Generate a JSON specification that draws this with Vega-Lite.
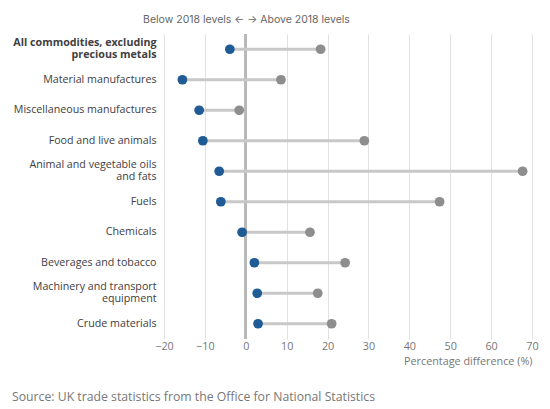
{
  "$schema": "https://vega.github.io/schema/vega-lite/v6.json",
  "width": 368,
  "height": 305,
  "autosize": "none",
  "padding": {"left": 164, "top": 34, "right": 18, "bottom": 70},
  "background": "white",
  "data": {
    "values": [
      {"category": "All commodities, excluding precious metals", "blue": -3.9, "grey": 18.3},
      {"category": "Material manufactures", "blue": -15.5, "grey": 8.6},
      {"category": "Miscellaneous manufactures", "blue": -11.4, "grey": -1.6},
      {"category": "Food and live animals", "blue": -10.5, "grey": 29.0},
      {"category": "Animal and vegetable oils and fats", "blue": -6.5, "grey": 67.7},
      {"category": "Fuels", "blue": -6.1, "grey": 47.4},
      {"category": "Chemicals", "blue": -0.9, "grey": 15.7},
      {"category": "Beverages and tobacco", "blue": 2.1, "grey": 24.3},
      {"category": "Machinery and transport equipment", "blue": 2.8, "grey": 17.6},
      {"category": "Crude materials", "blue": 3.0, "grey": 21.0}
    ]
  },
  "title": {
    "text": "Source: UK trade statistics from the Office for National Statistics",
    "orient": "bottom",
    "anchor": "start",
    "frame": "group",
    "offset": 24,
    "dx": -152,
    "font": "Open Sans",
    "fontSize": 12.25,
    "fontWeight": "normal",
    "color": "#777777"
  },
  "config": {
    "view": {"stroke": null},
    "font": "Open Sans",
    "axisY": {
      "domain": false,
      "ticks": false,
      "grid": false,
      "labelFontSize": 10.7,
      "labelColor": "#414042",
      "labelPadding": 8,
      "labelLineHeight": 12,
      "labelLimit": 300,
      "title": null
    }
  },
  "resolve": {"axis": {"x": "independent"}},
  "layer": [
    {
      "mark": {"type": "rule", "color": "#b8b8b8", "strokeWidth": 2},
      "encoding": {
        "x": {"datum": 0, "type": "quantitative", "scale": {"domain": [-20, 70], "nice": false, "zero": false}, "axis": null}
      }
    },
    {
      "mark": {"type": "rule", "color": "#c8c8c8", "strokeWidth": 3},
      "encoding": {
        "y": {
          "field": "category", "type": "nominal", "sort": null,
          "scale": {"paddingInner": 0, "paddingOuter": 0},
          "axis": {
            "labelExpr": "datum.label == 'All commodities, excluding precious metals' ? ['All commodities, excluding', 'precious metals'] : datum.label == 'Animal and vegetable oils and fats' ? ['Animal and vegetable oils', 'and fats'] : datum.label == 'Machinery and transport equipment' ? ['Machinery and transport', 'equipment'] : datum.label",
            "labelFontWeight": {"condition": {"test": "datum.value == 'All commodities, excluding precious metals'", "value": "bold"}, "value": "normal"},
            "labelOffset": {"condition": {"test": "datum.value == 'All commodities, excluding precious metals' || datum.value == 'Animal and vegetable oils and fats' || datum.value == 'Machinery and transport equipment'", "value": -6}, "value": 0}
          }
        },
        "x": {
          "field": "blue", "type": "quantitative",
          "scale": {"domain": [-20, 70], "nice": false, "zero": false},
          "axis": {
            "orient": "bottom",
            "values": [-20, -10, 0, 10, 20, 30, 40, 50, 60, 70],
            "grid": true,
            "gridColor": "#e2e2e2",
            "gridWidth": 1,
            "domain": false,
            "ticks": false,
            "labelFlush": false,
            "labelColor": "#777777",
            "labelFontSize": 10.8,
            "labelPadding": 1,
            "title": "Percentage difference (%)",
            "titleAnchor": "end",
            "titleFontWeight": "normal",
            "titleColor": "#777777",
            "titleFontSize": 10.8,
            "titlePadding": 5
          }
        },
        "x2": {"field": "grey"}
      }
    },
    {
      "transform": [{"fold": ["grey", "blue"], "as": ["series", "value"]}],
      "mark": {"type": "point", "filled": true, "size": 95, "opacity": 1},
      "encoding": {
        "y": {
          "field": "category", "type": "nominal", "sort": null,
          "scale": {"paddingInner": 0, "paddingOuter": 0},
          "axis": {
            "labelExpr": "datum.label == 'All commodities, excluding precious metals' ? ['All commodities, excluding', 'precious metals'] : datum.label == 'Animal and vegetable oils and fats' ? ['Animal and vegetable oils', 'and fats'] : datum.label == 'Machinery and transport equipment' ? ['Machinery and transport', 'equipment'] : datum.label",
            "labelFontWeight": {"condition": {"test": "datum.value == 'All commodities, excluding precious metals'", "value": "bold"}, "value": "normal"},
            "labelOffset": {"condition": {"test": "datum.value == 'All commodities, excluding precious metals' || datum.value == 'Animal and vegetable oils and fats' || datum.value == 'Machinery and transport equipment'", "value": -6}, "value": 0}
          }
        },
        "x": {
          "field": "value", "type": "quantitative",
          "scale": {"domain": [-20, 70], "nice": false, "zero": false},
          "axis": {
            "orient": "top",
            "labels": false,
            "ticks": false,
            "domain": false,
            "grid": false,
            "title": "Below 2018 levels \u2190  \u2192 Above 2018 levels",
            "titleX": 82,
            "titleY": -15,
            "titleAlign": "center",
            "titleBaseline": "middle",
            "titleFont": "Inter",
            "titleFontWeight": "normal",
            "titleFontSize": 10.5,
            "titleColor": "#666666"
          }
        },
        "color": {
          "field": "series", "type": "nominal",
          "scale": {"domain": ["blue", "grey"], "range": ["#1f5c96", "#8e8e8e"]},
          "legend": null
        }
      }
    }
  ]
}
